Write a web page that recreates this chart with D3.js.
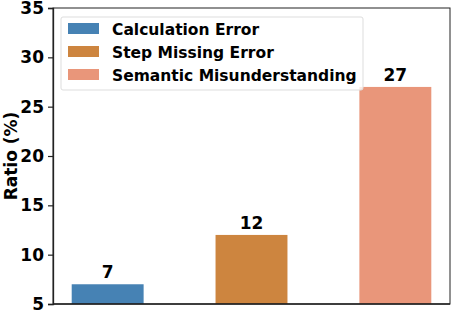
<!DOCTYPE html>
<html>
<head>
<meta charset="utf-8">
<script src="https://cdn.jsdelivr.net/npm/d3@7"></script>
<style>
  body { margin: 0; background: #fff; }
  text { font-family: "DejaVu Sans", sans-serif; font-weight: bold; }
</style>
</head>
<body>
<div id="chart"></div>
<script>
// chart data
const categories = ["Calculation Error", "Step Missing Error", "Semantic Misunderstanding"];
const ratios = [7, 12, 27];
const colors = ["#4682B4", "#CD853F", "#E9967A"];
const yTicks = [5, 10, 15, 20, 25, 30, 35];

const width = 452, height = 312;
const margin = {top: 8, right: 2, bottom: 8, left: 53};

const svg = d3.select("#chart").append("svg")
    .attr("width", width)
    .attr("height", height);

const x = d3.scaleBand()
    .domain(categories)
    .range([margin.left, width - margin.right])
    .paddingInner(0.5)
    .paddingOuter(0.13);

const y = d3.scaleLinear()
    .domain([5, 35])
    .range([height - margin.bottom, margin.top]);

// bars
svg.selectAll("rect.bar")
    .data(categories)
    .enter()
    .append("rect")
    .attr("class", "bar")
    .attr("x", d => x(d))
    .attr("width", x.bandwidth())
    .attr("y", (d, i) => y(ratios[i]))
    .attr("height", (d, i) => y(5) - y(ratios[i]))
    .attr("fill", (d, i) => colors[i]);

// value labels
svg.selectAll("text.val")
    .data(categories)
    .enter()
    .append("text")
    .attr("class", "val")
    .attr("x", d => x(d) + x.bandwidth() / 2)
    .attr("y", (d, i) => y(ratios[i]) - 6)
    .attr("text-anchor", "middle")
    .attr("font-size", 17)
    .text((d, i) => ratios[i]);

// frame
svg.append("rect")
    .attr("x", margin.left)
    .attr("y", margin.top)
    .attr("width", width - margin.right - margin.left)
    .attr("height", height - margin.bottom - margin.top)
    .attr("fill", "none")
    .attr("stroke", "#222")
    .attr("stroke-width", 1);

// y axis
const yAxis = svg.append("g")
    .attr("transform", "translate(" + margin.left + ",0)")
    .call(d3.axisLeft(y).tickValues(yTicks).tickSize(5).tickPadding(4));
yAxis.select(".domain").attr("stroke", "#222").attr("stroke-width", 1.3);
yAxis.selectAll(".tick line").attr("stroke", "#222").attr("stroke-width", 1.2);
yAxis.selectAll("text")
    .attr("font-size", 17)
    .attr("fill", "#000")
    .style("font-family", "DejaVu Sans")
    .style("font-weight", "bold");

// bottom spine
svg.append("line")
    .attr("x1", margin.left).attr("x2", width - margin.right)
    .attr("y1", y(5)).attr("y2", y(5))
    .attr("stroke", "#222").attr("stroke-width", 1.3);

// y label
svg.append("text")
    .attr("transform", "translate(17," + ((margin.top + height - margin.bottom) / 2) + ") rotate(-90)")
    .attr("text-anchor", "middle")
    .attr("font-size", 17)
    .text("Ratio (%)");

// legend
const legend = svg.append("g").attr("transform", "translate(61,17)");
legend.append("rect")
    .attr("width", 302)
    .attr("height", 73)
    .attr("rx", 2)
    .attr("fill", "#fff")
    .attr("fill-opacity", 0.8)
    .attr("stroke", "#ddd");

const rows = legend.selectAll("g.row")
    .data(categories)
    .enter()
    .append("g")
    .attr("class", "row")
    .attr("transform", (d, i) => "translate(7," + (6 + i * 23) + ")");
rows.append("rect")
    .attr("width", 31)
    .attr("height", 11)
    .attr("fill", (d, i) => colors[i]);
rows.append("text")
    .attr("x", 44)
    .attr("y", 11.5)
    .attr("font-size", 15.5)
    .text(d => d);
</script>
</body>
</html>
